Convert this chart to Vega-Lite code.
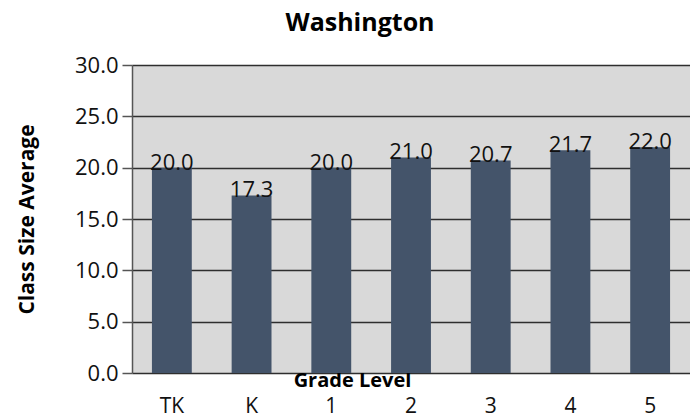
{
  "$schema": "https://vega.github.io/schema/vega-lite/v6.json",
  "width": 558,
  "height": 308,
  "autosize": "none",
  "padding": {"left": 132, "top": 65, "right": 0, "bottom": 44},
  "background": "white",
  "title": {
    "text": "Washington",
    "font": "Open Sans",
    "fontSize": 25,
    "fontWeight": "bold",
    "color": "#000000",
    "anchor": "middle",
    "frame": "group",
    "dx": -51,
    "baseline": "alphabetic",
    "offset": -2
  },
  "config": {
    "view": {"fill": "#d9d9d9", "stroke": null}
  },
  "data": {
    "values": [
      {"grade": "TK", "value": 20.0},
      {"grade": "K", "value": 17.3},
      {"grade": "1", "value": 20.0},
      {"grade": "2", "value": 21.0},
      {"grade": "3", "value": 20.7},
      {"grade": "4", "value": 21.7},
      {"grade": "5", "value": 22.0}
    ]
  },
  "encoding": {
    "x": {
      "field": "grade",
      "type": "nominal",
      "sort": null,
      "scale": {"paddingInner": 0.5, "paddingOuter": 0.25},
      "axis": {
        "domain": false,
        "ticks": false,
        "labelAngle": 0,
        "labelFont": "Open Sans",
        "labelFontSize": 21,
        "labelColor": "#111111",
        "labelBaseline": "alphabetic",
        "labelPadding": 39,
        "title": "Grade Level",
        "titleFont": "Open Sans",
        "titleFontSize": 20,
        "titleFontWeight": "bold",
        "titleColor": "#000000",
        "titleX": 220,
        "titleY": 13,
        "titleAlign": "center",
        "titleBaseline": "alphabetic"
      }
    },
    "y": {
      "field": "value",
      "type": "quantitative",
      "scale": {"domain": [0, 30], "nice": false},
      "axis": {
        "values": [0, 5, 10, 15, 20, 25, 30],
        "format": ".1f",
        "grid": true,
        "gridColor": "#2e2e2e",
        "gridWidth": 1.5,
        "gridOpacity": 1,
        "domain": true,
        "domainColor": "#555555",
        "domainWidth": 1.5,
        "tickSize": 10,
        "tickColor": "#555555",
        "tickWidth": 1.5,
        "labelFont": "Open Sans",
        "labelFontSize": 22,
        "labelColor": "#111111",
        "labelPadding": 4,
        "title": "Class Size Average",
        "titleFont": "Open Sans",
        "titleFontSize": 21,
        "titleFontWeight": "bold",
        "titleColor": "#000000",
        "titleX": -105,
        "titleY": 154,
        "titleAngle": -90,
        "titleAlign": "center",
        "titleBaseline": "middle"
      }
    }
  },
  "layer": [
    {"mark": {"type": "bar", "color": "#44546a"}},
    {
      "mark": {
        "type": "text",
        "baseline": "alphabetic",
        "dy": 2,
        "font": "Open Sans",
        "fontSize": 22,
        "color": "#111111"
      },
      "encoding": {"text": {"field": "value", "type": "quantitative", "format": ".1f"}}
    }
  ]
}
